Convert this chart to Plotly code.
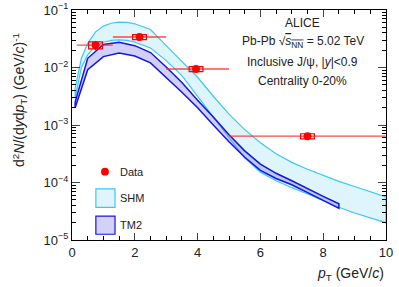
import plotly.graph_objects as go

# ---------------- data ----------------
data_pt = [0.75, 2.15, 3.95, 7.5]
data_pt_lo = [0.15, 1.3, 3.0, 5.0]
data_pt_hi = [1.3, 3.0, 5.0, 10.0]
data_y = [0.0245, 0.0340, 0.0094, 6.4e-4]
data_stat = [0.0045, 0.0030, 0.0006, 0.00007]
data_syst_rel = [0.14, 0.10, 0.10, 0.10]
syst_halfwidth = 0.22

shm_pt = [0.1, 0.3, 0.5, 0.75, 1.0, 1.25, 1.5, 1.75, 2.0, 2.5, 3.0, 3.5, 4.0, 4.5,
          5.0, 5.5, 6.0, 6.5, 7.0, 7.5, 8.0, 8.5, 9.0, 9.5, 10.0]
shm_hi_log = [-2.36, -1.84, -1.58, -1.38, -1.28, -1.23, -1.21, -1.215, -1.24, -1.34,
              -1.62, -1.90, -2.17, -2.50, -2.81, -3.08, -3.31, -3.50, -3.65, -3.77,
              -3.88, -3.98, -4.07, -4.16, -4.25]
shm_lo_log = [-2.53, -2.00, -1.78, -1.62, -1.56, -1.53, -1.52, -1.53, -1.56, -1.66,
              -1.88, -2.14, -2.50, -2.86, -3.22, -3.57, -3.82, -3.97, -4.09, -4.20,
              -4.31, -4.43, -4.53, -4.62, -4.70]

tm2_pt = [0.1, 0.5, 1.0, 1.5, 2.0, 2.5, 3.0, 3.5, 4.0, 4.5, 5.0, 5.5, 6.0, 6.5,
          7.0, 7.5, 8.0, 8.5]
tm2_hi_log = [-2.60, -1.84, -1.60, -1.56, -1.62, -1.74, -1.99, -2.26, -2.57, -2.86,
              -3.17, -3.45, -3.68, -3.84, -3.97, -4.11, -4.24, -4.37]
tm2_lo_log = [-2.70, -2.04, -1.81, -1.75, -1.80, -1.92, -2.17, -2.43, -2.70, -3.00,
              -3.29, -3.56, -3.79, -3.93, -4.04, -4.17, -4.31, -4.45]

x_ticks = [0, 2, 4, 6, 8, 10]
y_ticks = [1e-5, 1e-4, 1e-3, 1e-2, 1e-1]
y_ticktext = ["10<sup>−5</sup>", "10<sup>−4</sup>", "10<sup>−3</sup>",
              "10<sup>−2</sup>", "10<sup>−1</sup>"]

FONT = "Liberation Sans, Arial, sans-serif"
SHM_FILL = "rgb(222,245,253)"
SHM_LINE = "rgb(60,200,240)"
TM2_FILL = "rgba(120,120,235,0.35)"
TM2_LINE = "rgb(20,20,230)"
RED = "rgb(255,0,0)"

fig = go.Figure()

def band(xs, hi, lo, fill, line, width):
    px = list(xs) + list(xs)[::-1]
    py = [10 ** v for v in hi] + [10 ** v for v in lo][::-1]
    px.append(px[0]); py.append(py[0])
    fig.add_trace(go.Scatter(x=px, y=py, mode="lines", fill="toself",
                             fillcolor=fill, line=dict(color=line, width=width),
                             hoverinfo="skip", showlegend=False))

band(shm_pt, shm_hi_log, shm_lo_log, SHM_FILL, SHM_LINE, 1.2)
band(tm2_pt, tm2_hi_log, tm2_lo_log, TM2_FILL, TM2_LINE, 1.5)

# horizontal bin-width bars
for xc, xl, xh, yv in zip(data_pt, data_pt_lo, data_pt_hi, data_y):
    fig.add_trace(go.Scatter(x=[xl, xh], y=[yv, yv], mode="lines",
                             line=dict(color="rgba(255,40,40,0.85)", width=1.4),
                             hoverinfo="skip", showlegend=False))

# systematic boxes
for xc, yv, rel in zip(data_pt, data_y, data_syst_rel):
    fig.add_shape(type="rect", xref="x", yref="y",
                  x0=xc - syst_halfwidth, x1=xc + syst_halfwidth,
                  y0=yv * (1 - rel), y1=yv * (1 + rel),
                  line=dict(color=RED, width=1.2), fillcolor="rgba(0,0,0,0)")

fig.add_trace(go.Scatter(x=data_pt, y=data_y, mode="markers",
                         marker=dict(color=RED, size=8, symbol="circle"),
                         error_y=dict(type="data", array=data_stat, color=RED,
                                      thickness=1.5, width=0),
                         hoverinfo="skip", showlegend=False))

# manual legend
fig.add_shape(type="circle", xref="paper", yref="paper",
              x0=0.105 - 0.0125, x1=0.105 + 0.0125, y0=0.297 - 0.017, y1=0.297 + 0.017,
              fillcolor=RED, line=dict(color=RED, width=0))
fig.add_shape(type="rect", xref="paper", yref="paper", x0=0.076, x1=0.137,
              y0=0.142, y1=0.222, fillcolor=SHM_FILL,
              line=dict(color=SHM_LINE, width=1.2))
fig.add_shape(type="rect", xref="paper", yref="paper", x0=0.076, x1=0.137,
              y0=0.025, y1=0.104, fillcolor="rgb(210,210,248)",
              line=dict(color=TM2_LINE, width=1.2))
for txt, yy in [("Data", 0.297), ("SHM", 0.183), ("TM2", 0.065)]:
    fig.add_annotation(x=0.148, y=yy, xref="paper", yref="paper", text=txt,
                       showarrow=False, xanchor="left", yanchor="middle",
                       font=dict(family=FONT, size=11, color="#222"))

# header text
header = [
    ("ALICE", 0.943),
    ("Pb-Pb √<span style='text-decoration:overline'><i>s</i><sub>NN</sub></span> = 5.02 TeV", 0.862),
    ("Inclusive J/ψ, |<i>y</i>|<0.9", 0.774),
    ("Centrality 0-20%", 0.691),
]
for txt, yy in header:
    fig.add_annotation(x=0.735, y=yy, xref="paper", yref="paper", text=txt,
                       showarrow=False, xanchor="center", yanchor="middle",
                       font=dict(family=FONT, size=12, color="#222"))

# axis titles
fig.add_annotation(x=1.0, y=-0.1, xref="paper", yref="paper",
                   text="<i>p</i><sub>T</sub> (GeV/<i>c</i>)", showarrow=False,
                   xanchor="right", yanchor="top",
                   font=dict(family=FONT, size=14, color="#222"))
fig.add_annotation(x=-0.168, y=0.61, xref="paper", yref="paper",
                   text="d<sup>2</sup><i>N</i>/(d<i>y</i>d<i>p</i><sub>T</sub>) (GeV/<i>c</i>)<sup>-1</sup>",
                   showarrow=False, textangle=-90, xanchor="center", yanchor="middle",
                   font=dict(family=FONT, size=14, color="#222"))

fig.update_layout(
    width=399, height=287,
    margin=dict(l=72, r=13, t=10, b=47, autoexpand=False),
    paper_bgcolor="white", plot_bgcolor="white",
    font=dict(family=FONT, size=13, color="#222"),
    xaxis=dict(range=[0, 10], tickvals=x_ticks, ticks="inside", ticklen=7,
               tickwidth=1, linecolor="black", linewidth=1, mirror="ticks",
               showgrid=False, zeroline=False, tickfont=dict(size=13),
               automargin=False,
               minor=dict(ticks="inside", ticklen=4, dtick=0.5, showgrid=False,
                          tickcolor="black")),
    yaxis=dict(type="log", range=[-5, -1], tickvals=y_ticks, ticktext=y_ticktext,
               ticks="inside", ticklen=8, tickwidth=1, linecolor="black", linewidth=1,
               mirror="ticks", showgrid=False, zeroline=False, tickfont=dict(size=13),
               automargin=False,
               minor=dict(ticks="inside", ticklen=4, dtick="D1", showgrid=False,
                          tickcolor="black")),
)

fig.write_html("out.html", config={"displayModeBar": False},
               post_script="document.body.style.margin='0';document.body.style.overflow='hidden';")
